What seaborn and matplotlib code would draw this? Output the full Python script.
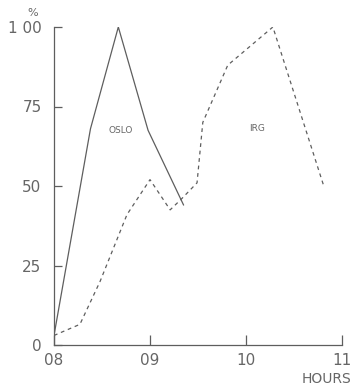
import matplotlib
matplotlib.use("Agg")
import matplotlib.pyplot as plt
import seaborn as sns
import pandas as pd

# Data (hours, percent)
oslo_hours = [8.0, 8.38, 8.67, 8.98, 9.35]
oslo_pct = [3, 68, 100, 67.5, 44]
irg_hours = [8.0, 8.27, 8.48, 8.76, 9.0, 9.21, 9.33, 9.49, 9.55, 9.81, 10.28, 10.81]
irg_pct = [3, 6.5, 20, 41, 52, 42.5, 46, 51, 70, 88, 100, 50]
x_ticks = [8, 9, 10, 11]
x_tick_labels = ["08", "09", "10", "11"]
y_ticks = [0, 25, 50, 75, 100]
y_tick_labels = ["0", "25", "50", "75", "1 00"]

sns.set_theme(style="white", rc={"xtick.direction": "in", "ytick.direction": "in",
                                 "xtick.bottom": True, "ytick.left": True})
plt.rcParams['font.family'] = ['DejaVu Sans']

col = "#5e5e5e"
tcol = "#666666"
fig = plt.figure(figsize=(3.52, 3.87), dpi=100)
ax = fig.add_axes([54/352, 42/387, 288/352, 318/387])

df_o = pd.DataFrame({"h": oslo_hours, "p": oslo_pct})
df_i = pd.DataFrame({"h": irg_hours, "p": irg_pct})
sns.lineplot(data=df_o, x="h", y="p", ax=ax, color=col, lw=0.9, sort=False)
sns.lineplot(data=df_i, x="h", y="p", ax=ax, color=col, lw=0.9, sort=False,
             linestyle=(0, (3, 3)))

ax.set_xlim(8, 11)
ax.set_ylim(0, 100)
ax.set_xticks(x_ticks)
ax.set_xticklabels(x_tick_labels)
ax.set_yticks(y_ticks)
ax.set_yticklabels(y_tick_labels)
ax.set_xlabel("")
ax.set_ylabel("")
for s in ["top", "right"]:
    ax.spines[s].set_visible(False)
for s in ["left", "bottom"]:
    ax.spines[s].set_color(col)
    ax.spines[s].set_linewidth(0.9)
ax.tick_params(axis="y", which="major", direction="in", length=6, width=0.9,
               color=col, labelcolor=tcol, labelsize=11, pad=9, left=True)
ax.tick_params(axis="x", which="major", direction="in", length=7, width=0.9,
               color=col, labelcolor=tcol, labelsize=11, pad=6, bottom=True)

ax.text(8.69, 67.5, "OSLO", color=tcol, fontsize=6.5, ha="center", va="center")
ax.text(10.12, 68, "IRG", color=tcol, fontsize=6.5, ha="center", va="center")
fig.text(33/352, 1 - 13/387, "%", color=tcol, fontsize=8, ha="center", va="center")
fig.text(351/352, 1 - 379/387, "HOURS", color=tcol, fontsize=10, ha="right",
         va="center")

fig.savefig("out.png", dpi=100)
